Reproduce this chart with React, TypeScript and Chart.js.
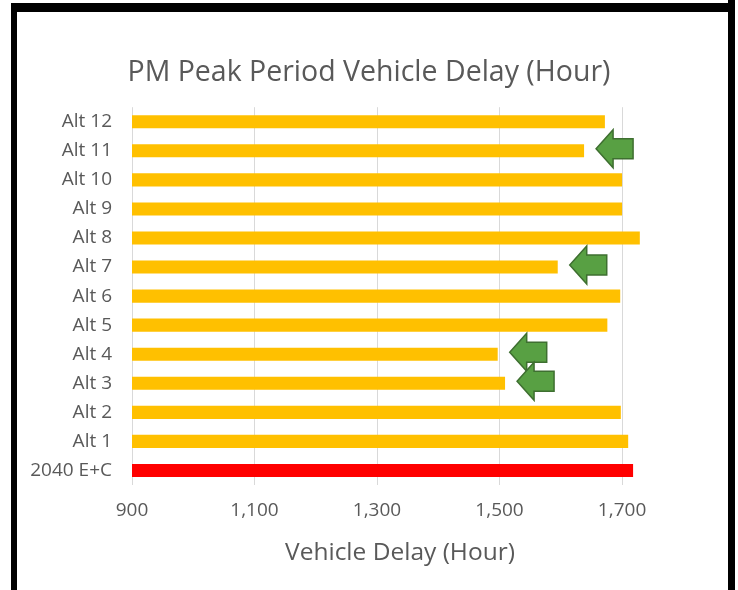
import React, { useEffect, useRef } from "react";
import { Chart, registerables } from "chart.js";

Chart.register(...registerables);

// ---- data ----
const categories = [
  "2040 E+C", "Alt 1", "Alt 2", "Alt 3", "Alt 4", "Alt 5", "Alt 6",
  "Alt 7", "Alt 8", "Alt 9", "Alt 10", "Alt 11", "Alt 12",
];
const vehicleDelay = [
  1718, 1710, 1698, 1509, 1497, 1676, 1697,
  1595, 1729, 1700, 1700, 1638, 1672,
];
const baselineCategory = "2040 E+C";
const highlightedCategories = ["Alt 11", "Alt 7", "Alt 4", "Alt 3"];
const xTickValues = [900, 1100, 1300, 1500, 1700];
const xMin = 900;
const xMax = 1775;

const chartTitle = "PM Peak Period Vehicle Delay (Hour)";
const xAxisTitle = "Vehicle Delay (Hour)";

const FONT = "'Open Sans', 'Liberation Sans', sans-serif";
const TEXT = "#595959";

const arrowPlugin = {
  id: "arrows",
  afterDatasetsDraw(chart: any) {
    const meta = chart.getDatasetMeta(0);
    const ctx = chart.ctx;
    highlightedCategories.forEach((cat) => {
      const idx = categories.indexOf(cat);
      if (idx < 0) return;
      const el = meta.data[idx];
      const tipX = el.x + 12;
      const cy = el.y - 2;
      const total = 37;
      const headLen = 17;
      const headH = 38;
      const bodyH = 20;
      ctx.save();
      ctx.beginPath();
      ctx.moveTo(tipX, cy);
      ctx.lineTo(tipX + headLen, cy - headH / 2);
      ctx.lineTo(tipX + headLen, cy - bodyH / 2);
      ctx.lineTo(tipX + total, cy - bodyH / 2);
      ctx.lineTo(tipX + total, cy + bodyH / 2);
      ctx.lineTo(tipX + headLen, cy + bodyH / 2);
      ctx.lineTo(tipX + headLen, cy + headH / 2);
      ctx.closePath();
      ctx.fillStyle = "#58A043";
      ctx.fill();
      ctx.lineWidth = 1.5;
      ctx.strokeStyle = "#3E6F30";
      ctx.stroke();
      ctx.restore();
    });
  },
};

function ChartView() {
  const ref = useRef<HTMLCanvasElement | null>(null);
  useEffect(() => {
    if (!ref.current) return;
    const chart = new Chart(ref.current, {
      type: "bar",
      data: {
        labels: categories,
        datasets: [
          {
            data: vehicleDelay,
            backgroundColor: categories.map((c) =>
              c === baselineCategory ? "#FF0000" : "#FFC000"
            ),
            borderWidth: 0,
            categoryPercentage: 1,
            barPercentage: 0.45,
          },
        ],
      },
      options: {
        indexAxis: "y",
        responsive: false,
        animation: false,
        devicePixelRatio: 1,
        layout: { padding: { left: 0, right: 0, top: 0, bottom: 0 } },
        plugins: {
          legend: { display: false },
          tooltip: { enabled: false },
          title: {
            display: true,
            text: chartTitle,
            color: TEXT,
            font: { family: FONT, size: 28.5, weight: "normal" },
            padding: { top: 56, bottom: 17 },
          },
        },
        scales: {
          x: {
            type: "linear",
            min: xMin,
            max: xMax,
            afterBuildTicks: (axis: any) => {
              axis.ticks = xTickValues.map((v) => ({ value: v }));
            },
            afterFit: (scale: any) => {
              scale.height = 105;
            },
            grid: { color: "#D9D9D9", drawTicks: false, lineWidth: 1 },
            border: { display: false },
            ticks: {
              color: TEXT,
              padding: 14,
              font: { family: FONT, size: 19 },
              callback: (v: any) => Number(v).toLocaleString("en-US"),
            },
            title: {
              display: true,
              text: xAxisTitle,
              color: TEXT,
              font: { family: FONT, size: 24.5 },
              padding: { top: 0, bottom: 22 },
            },
          },
          y: {
            reverse: true,
            afterFit: (scale: any) => {
              scale.width = 132;
            },
            grid: { display: false, drawTicks: false },
            border: { display: false },
            ticks: {
              color: TEXT,
              padding: 20,
              font: { family: FONT, size: 19 },
            },
          },
          yRight: {
            type: "category",
            axis: "y",
            position: "right",
            labels: [""],
            afterFit: (scale: any) => {
              scale.width = 70;
            },
            grid: { display: false, drawTicks: false },
            border: { display: false },
            ticks: { display: false },
          },
        },
      },
      plugins: [arrowPlugin],
    } as any);
    return () => chart.destroy();
  }, []);
  return (
    <canvas
      ref={ref}
      width={738}
      height={590}
      style={{ position: "absolute", left: 0, top: 0, width: 738, height: 590 }}
    />
  );
}

export default function App() {
  useEffect(() => {
    document.body.style.margin = "0";
  }, []);
  const bar = (s: React.CSSProperties) => (
    <div style={{ position: "absolute", background: "#000", ...s }} />
  );
  return (
    <div style={{ position: "relative", width: 738, height: 590, background: "#fff", overflow: "hidden" }}>
      <ChartView />
      {bar({ left: 11, top: 3, width: 724, height: 9 })}
      {bar({ left: 11, top: 3, width: 6, height: 587 })}
      {bar({ left: 728, top: 0, width: 7, height: 590 })}
    </div>
  );
}
